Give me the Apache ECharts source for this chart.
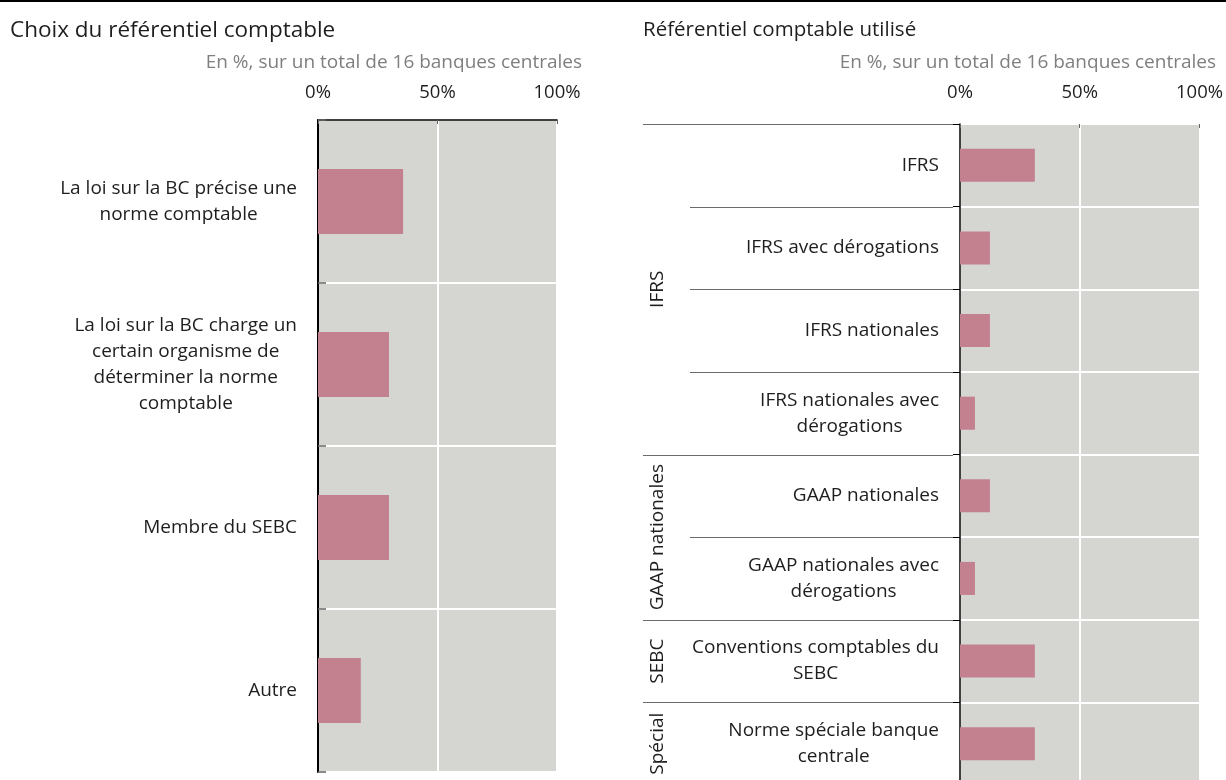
<!DOCTYPE html>
<html><head><meta charset="utf-8">
<script src="https://cdn.jsdelivr.net/npm/echarts@6/dist/echarts.min.js"></script>
<style>html,body{margin:0;padding:0;background:#fff;overflow:hidden}#wrap{width:1226px;height:780px;overflow:hidden;position:relative}#c{width:1226px;height:792px}</style>
</head><body><div id="wrap"><div id="c"></div></div>
<script>
const leftTitle = 'Choix du référentiel comptable';
const rightTitle = 'Référentiel comptable utilisé';
const subtitle = 'En %, sur un total de 16 banques centrales';
const leftCategories = [
  'La loi sur la BC précise une\nnorme comptable',
  'La loi sur la BC charge un\ncertain organisme de\ndéterminer la norme\ncomptable',
  'Membre du SEBC',
  'Autre'
];
const leftValues = [35.6, 29.7, 29.7, 17.9];
const rightCategories = [
  'IFRS',
  'IFRS avec dérogations',
  'IFRS nationales',
  'IFRS nationales avec\ndérogations',
  'GAAP nationales',
  'GAAP nationales avec\ndérogations',
  'Conventions comptables du\nSEBC',
  'Norme spéciale banque\ncentrale'
];
const rightValues = [31.25, 12.5, 12.5, 6.25, 12.5, 6.25, 31.25, 31.25];
const groupNames = ['IFRS', 'GAAP nationales', 'SEBC', 'Spécial'];
const groupSizes = [4, 2, 1, 1];
const axisMin = 0, axisMax = 100, axisStep = 50;

const FONT = '"Open Sans", "Noto Sans", sans-serif';
const FS = 19;
const AFS = 18.5;
const TXT = '#1e1e1e';
const BAR = '#c38190';
const BG = '#d5d5d1';

const ctx = document.createElement('canvas').getContext('2d');
ctx.font = FS + 'px "Open Sans"';
function buildRich(cats, prefix) {
  const rich = {}; const keyOf = {};
  cats.forEach((c, i) => {
    const w = Math.max(...c.split('\n').map(l => ctx.measureText(l).width)) + 2;
    const k = prefix + i;
    rich[k] = { width: w, align: 'center', fontSize: FS, fontFamily: FONT, color: TXT, lineHeight: 26 };
    keyOf[c] = k;
  });
  return { rich, fmt: v => v.split('\n').map(l => '{' + keyOf[v] + '|' + l + '}').join('\n') };
}
const lr = buildRich(leftCategories, 'l');
const rr = buildRich(rightCategories, 'r');

const chart = echarts.init(document.getElementById('c'), null, { renderer: 'canvas' });

function xAxisCfg(gi, showLine, margin) {
  return {
    type: 'value', gridIndex: gi, position: 'top', min: axisMin, max: axisMax, interval: axisStep,
    axisLine: { show: showLine, onZero: false, lineStyle: { color: '#000', width: 1.5 } },
    axisTick: { show: true, inside: true, length: 4, lineStyle: { color: '#666' } },
    axisLabel: { formatter: '{value}%', fontSize: AFS, fontFamily: FONT, color: TXT, margin: margin },
    splitLine: { show: true, lineStyle: { color: '#fff', width: 2 } }
  };
}

const sStyle = { fontSize: FS, fontWeight: 'normal', color: '#7f7f7f', fontFamily: FONT };
chart.setOption({
  animation: false,
  textStyle: { fontFamily: FONT },
  title: [
    { text: leftTitle, left: 10, top: 19, padding: 0, textStyle: { fontSize: 22.5, fontWeight: 'normal', color: TXT, fontFamily: FONT } },
    { text: subtitle, right: 644, top: 53, padding: 0, textStyle: sStyle },
    { text: rightTitle, left: 643, top: 20, padding: 0, textStyle: { fontSize: 20.5, fontWeight: 'normal', color: TXT, fontFamily: FONT } },
    { text: subtitle, right: 10, top: 53, padding: 0, textStyle: sStyle }
  ],
  grid: [
    { left: 318, top: 120, width: 239, height: 652, show: true, backgroundColor: BG, borderWidth: 0, containLabel: false },
    { left: 960, top: 124, width: 240, height: 661, show: true, backgroundColor: BG, borderWidth: 0, containLabel: false }
  ],
  xAxis: [xAxisCfg(0, true, 18), xAxisCfg(1, false, 22)],
  yAxis: [
    {
      type: 'category', gridIndex: 0, inverse: true, data: leftCategories,
      axisLine: { show: true, lineStyle: { color: '#000', width: 2 } },
      axisTick: { show: true, inside: true, length: 8, lineStyle: { color: '#666', width: 1.5 } },
      axisLabel: { margin: 20, formatter: lr.fmt, rich: lr.rich, align: 'right' },
      splitLine: { show: true, lineStyle: { color: '#fff', width: 2 } }
    },
    {
      type: 'category', gridIndex: 1, inverse: true, data: rightCategories,
      axisLine: { show: true, lineStyle: { color: '#000', width: 1.5 } },
      axisTick: { show: true, inside: false, length: 7, lineStyle: { color: '#000', width: 1 } },
      axisLabel: { margin: 20, formatter: rr.fmt, rich: rr.rich, align: 'right' },
      splitLine: { show: true, lineStyle: { color: '#fff', width: 2 } }
    }
  ],
  series: [
    { type: 'bar', xAxisIndex: 0, yAxisIndex: 0, data: leftValues, barWidth: '40%', itemStyle: { color: BAR } },
    { type: 'bar', xAxisIndex: 1, yAxisIndex: 1, data: rightValues, barWidth: '40%', itemStyle: { color: BAR } }
  ]
});

// Group labels and separator lines for the right panel, positioned from the axis scale
const yc0 = chart.convertToPixel({ yAxisIndex: 1 }, 0);
const yc1 = chart.convertToPixel({ yAxisIndex: 1 }, 1);
const band = yc1 - yc0;
const axisX = chart.convertToPixel({ xAxisIndex: 1 }, axisMin);
const graphics = [
  { type: 'rect', shape: { x: 0, y: 0, width: 1226, height: 2 }, style: { fill: '#000' }, z: 100 }
];
const groupStarts = [];
let acc = 0;
groupSizes.forEach(s => { groupStarts.push(acc); acc += s; });
for (let i = 0; i < rightCategories.length; i++) {
  const top = Math.round(chart.convertToPixel({ yAxisIndex: 1 }, i) - band / 2) + 0.5;
  const isGroup = groupStarts.includes(i);
  graphics.push({
    type: 'line', z: 100,
    shape: { x1: isGroup ? 643 : 690, y1: top, x2: axisX - 7, y2: top },
    style: { stroke: '#6b6b6b', lineWidth: 1 }
  });
}
groupNames.forEach((g, gi) => {
  const s = groupStarts[gi], n = groupSizes[gi];
  const yTop = chart.convertToPixel({ yAxisIndex: 1 }, s) - band / 2;
  const cy = yTop + band * n / 2;
  graphics.push({
    type: 'text', z: 100, x: 658, y: cy, rotation: Math.PI / 2,
    style: { text: g, fontSize: FS, fontFamily: FONT, fill: TXT, align: 'center', verticalAlign: 'middle' }
  });
});
chart.setOption({ graphic: graphics });
</script>
</body></html>
